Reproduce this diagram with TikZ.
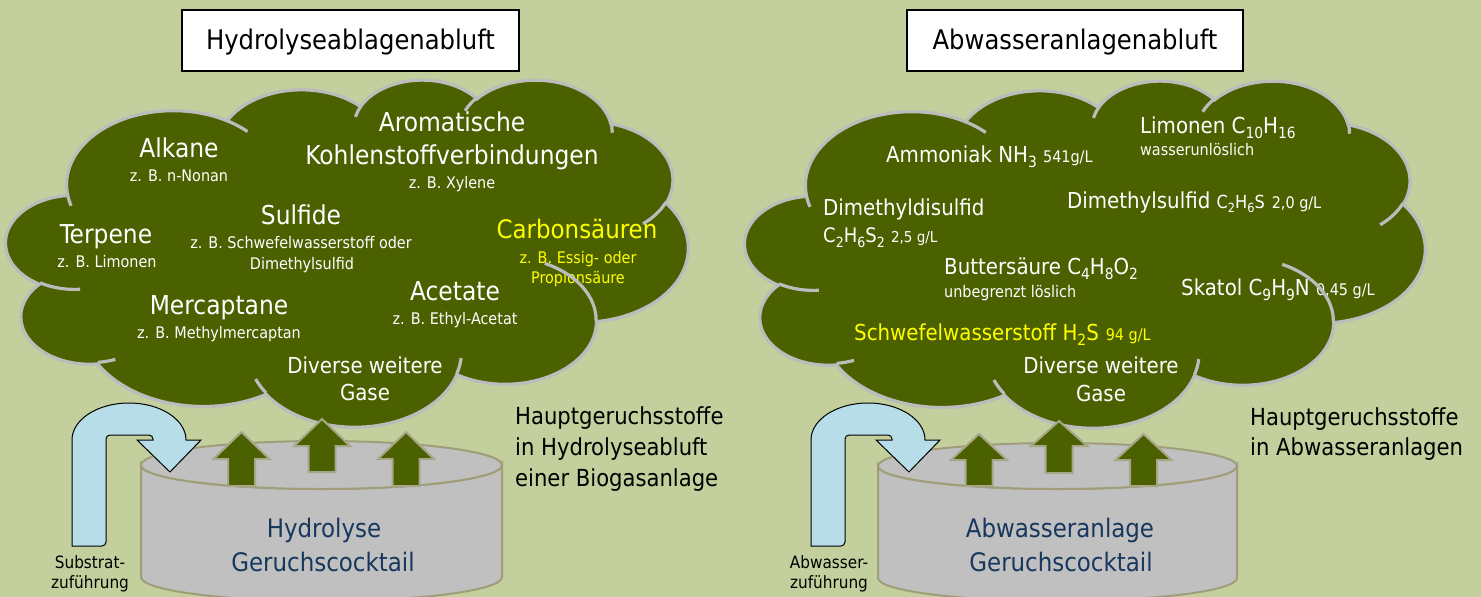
\documentclass[tikz,border=0pt]{standalone}
\usepackage{fontspec}
\setmainfont{DejaVu Sans Condensed}
\usepackage{graphicx}
\definecolor{bg}{RGB}{195,207,156}
\definecolor{cloudfill}{RGB}{75,97,0}
\definecolor{cloudline}{RGB}{188,188,188}
\definecolor{cylfill}{RGB}{192,192,192}
\definecolor{cylline}{RGB}{160,158,120}
\definecolor{arrline}{RGB}{168,166,136}
\definecolor{bentfill}{RGB}{183,222,232}
\definecolor{tankblue}{RGB}{23,55,94}
\definecolor{yell}{RGB}{255,255,0}

\newcommand\fs[1]{\fontsize{#1}{#1}\selectfont}
\newcommand\sbs[1]{\raisebox{-0.25em}{\scalebox{0.7}{#1}}}

% DrawingML cloud arcs: convert visual angles to parametric ones
\newcommand\setarc[5]{%
  \pgfmathsetmacro\tmpa{atan2(#2*sin(#4),#3*cos(#4))}%
  \pgfmathsetmacro\tmpb{atan2(#2*sin(#4+#5),#3*cos(#4+#5))}%
  \pgfmathsetmacro\tmpd{mod(\tmpb-\tmpa+720,360)}%
  \expandafter\xdef\csname arcS#1\endcsname{\tmpa}%
  \expandafter\xdef\csname arcD#1\endcsname{\tmpd}%
}
\setarc{A}{6.753}{9.19}{-190.4875}{123.7805}
\setarc{B}{5.333}{7.267}{-144.1024}{89.9452}
\setarc{C}{4.365}{5.945}{-145.8079}{99.7230}
\setarc{D}{4.857}{6.595}{-130.9861}{117.2417}
\setarc{E}{5.333}{7.273}{-78.7089}{109.0269}
\setarc{F}{6.775}{9.22}{-46.2673}{130.2690}
\setarc{G}{5.785}{7.867}{0.6250}{114.0333}
\setarc{H}{6.752}{9.215}{22.4516}{115.1726}
\setarc{I}{7.72}{10.543}{66.2426}{75.7110}
\setarc{J}{4.36}{5.918}{-274.9421}{146.7356}
\setarc{K}{4.345}{5.945}{-246.8285}{152.5189}
\setarc{a}{4.345}{5.945}{86.7420}{26.4295}
\setarc{b}{4.36}{5.918}{73.6105}{11.4475}
\setarc{c}{6.752}{9.215}{137.6242}{14.0811}
\setarc{d}{6.752}{9.215}{6.4533}{15.9984}
\setarc{e}{5.785}{7.867}{-70.2924}{70.9174}
\setarc{f}{5.333}{7.273}{30.3180}{27.7515}
\setarc{g}{4.857}{6.595}{-13.7443}{14.8589}
\setarc{h}{4.857}{6.595}{-149.1815}{18.1954}
\setarc{i}{4.365}{5.945}{-163.4943}{17.6864}
\setarc{j}{6.753}{9.19}{-66.7070}{12.3194}
\setarc{k}{6.753}{9.19}{157.6544}{11.8582}

\newcommand\cloudbody[4]{%
\begin{scope}[shift={(#1,#2)}, xscale=#3/43.2, yscale=#4/43.2]
\path[cloudshape] (3.9,14.37)
 arc[start angle=\arcSA, delta angle=\arcDA, x radius=6.753, y radius=9.19]
 arc[start angle=\arcSB, delta angle=\arcDB, x radius=5.333, y radius=7.267]
 arc[start angle=\arcSC, delta angle=\arcDC, x radius=4.365, y radius=5.945]
 arc[start angle=\arcSD, delta angle=\arcDD, x radius=4.857, y radius=6.595]
 arc[start angle=\arcSE, delta angle=\arcDE, x radius=5.333, y radius=7.273]
 arc[start angle=\arcSF, delta angle=\arcDF, x radius=6.775, y radius=9.22]
 arc[start angle=\arcSG, delta angle=\arcDG, x radius=5.785, y radius=7.867]
 arc[start angle=\arcSH, delta angle=\arcDH, x radius=6.752, y radius=9.215]
 arc[start angle=\arcSI, delta angle=\arcDI, x radius=7.72, y radius=10.543]
 arc[start angle=\arcSJ, delta angle=\arcDJ, x radius=4.36, y radius=5.918]
 arc[start angle=\arcSK, delta angle=\arcDK, x radius=4.345, y radius=5.945]
 -- cycle;
\end{scope}}

\newcommand\cloudinner[4]{%
\begin{scope}[shift={(#1,#2)}, xscale=#3/43.2, yscale=#4/43.2]
\path[cloudlines]
 (4.693,26.177) arc[start angle=\arcSa, delta angle=\arcDa, x radius=4.345, y radius=5.945]
 (6.928,34.899) arc[start angle=\arcSb, delta angle=\arcDb, x radius=4.36, y radius=5.918]
 (16.478,39.09) arc[start angle=\arcSc, delta angle=\arcDc, x radius=6.752, y radius=9.215]
 (28.827,34.751) arc[start angle=\arcSd, delta angle=\arcDd, x radius=6.752, y radius=9.215]
 (34.129,22.954) arc[start angle=\arcSe, delta angle=\arcDe, x radius=5.785, y radius=7.867]
 (41.798,15.354) arc[start angle=\arcSf, delta angle=\arcDf, x radius=5.333, y radius=7.273]
 (38.324,5.426) arc[start angle=\arcSg, delta angle=\arcDg, x radius=4.857, y radius=6.595]
 (29.078,3.952) arc[start angle=\arcSh, delta angle=\arcDh, x radius=4.857, y radius=6.595]
 (22.141,4.72) arc[start angle=\arcSi, delta angle=\arcDi, x radius=4.365, y radius=5.945]
 (14,5.192) arc[start angle=\arcSj, delta angle=\arcDj, x radius=6.753, y radius=9.19]
 (4.127,15.789) arc[start angle=\arcSk, delta angle=\arcDk, x radius=6.753, y radius=9.19];
\end{scope}}

\newcommand\tankshape[4]{%
\path[tankstyle] ({#1-#3},#2) -- ({#1-#3},{#2+112})
  arc[start angle=180, end angle=0, x radius=#3, y radius=#4]
  -- ({#1+#3},#2) arc[start angle=0, end angle=180, x radius=#3, y radius=#4] -- cycle;
\path[tankstyle] (#1,#2) ellipse[x radius=#3, y radius=#4];}

\newcommand\uparrowshape[4]{% xc tip base bottom
\path[uparr] (#1,#2) -- ({#1+28},#3) -- ({#1+13.5},#3) -- ({#1+13.5},#4)
  -- ({#1-13.5},#4) -- ({#1-13.5},#3) -- ({#1-28},#3) -- cycle;}

\newcommand\bentarrow[1]{%
\begin{scope}[shift={(#1,0)}]
\path[bent] (72,546) -- (72,440)
  arc[start angle=180, end angle=360, x radius=57, y radius=37]
  -- (201,440) -- (170,472) -- (137,440) -- (153,440)
  [rounded corners=4pt] -- (153,435) -- (106,435) -- (106,546) [sharp corners] -- cycle;
\end{scope}}

\begin{document}
\begin{tikzpicture}[x=1pt,y=-1pt,
  cloudshape/.style={fill=cloudfill, draw=cloudline, line width=3.2pt},
  cloudlines/.style={draw=cloudline, line width=3.2pt},
  tankstyle/.style={fill=cylfill, draw=cylline, line width=2pt},
  uparr/.style={fill=cloudfill, draw=arrline, line width=2pt, line join=miter},
  bent/.style={fill=bentfill, draw=black, line width=1pt},
  lbig/.style={text=white, font=\fs{26}, anchor=base, inner sep=0pt},
  lsmall/.style={text=white, font=\fs{16}, anchor=base, inner sep=0pt},
  rtxt/.style={text=white, font=\fs{22}, anchor=base west, inner sep=0pt},
  rsmall/.style={text=white, font=\fs{16}, anchor=base west, inner sep=0pt},
  note/.style={text=black, font=\fs{23.5}, anchor=base west, inner sep=0pt},
  tanktext/.style={text=tankblue, font=\fs{25.5}, anchor=base, inner sep=0pt},
  feed/.style={text=black, font=\fs{17}, anchor=base, inner sep=0pt},
  titlebox/.style={draw=black, line width=1.5pt, fill=white, font=\fs{27}, inner sep=0pt,
    text height=22pt, text depth=5pt, minimum height=61pt, minimum width=337pt}
]
\fill[bg, use as bounding box] (0,0) rectangle (1481,597);

% tanks
\tankshape{321.5}{465}{180.5}{24}
\tankshape{1057.5}{466}{179.5}{23}

% clouds
\cloudbody{6}{79}{682}{347}
\cloudbody{745}{80}{680}{347}

% left cloud texts
\node[lbig] (alk) at (179,157) {Alkane};
\node[lsmall] (alks) at (179,181) {z. B. n-Nonan};
\node[lbig] (aro1) at (452,131) {Aromatische};
\node[lbig] (aro2) at (452,164) {Kohlenstoffverbindungen};
\node[lsmall] (aros) at (452,188) {z. B. Xylene};
\node[lbig] (sul) at (301,224) {Sulfide};
\node[lsmall] (suls1) at (301,248) {z. B. Schwefelwasserstoff oder};
\node[lsmall] (suls2) at (302,269) {Dimethylsulfid};
\node[lbig] (ter) at (106,243) {Terpene};
\node[lsmall] (ters) at (107,267) {z. B. Limonen};
\node[lbig, text=yell, font=\fs{25.5}] (car) at (577,238) {Carbonsäuren};
\node[lsmall, text=yell] (cars1) at (578,263) {z. B. Essig- oder};
\node[lsmall, text=yell] (cars2) at (578,283) {Propionsäure};
\node[lbig] (mer) at (219,314) {Mercaptane};
\node[lsmall] (mers) at (219,338) {z. B. Methylmercaptan};
\node[lbig] (ace) at (455,300) {Acetate};
\node[lsmall] (aces) at (455,324) {z. B. Ethyl-Acetat};
\node[lbig, font=\fs{22}] (div1) at (365,373) {Diverse weitere};
\node[lbig, font=\fs{22}] (div2) at (365,400) {Gase};

% right cloud texts
\node[rtxt] (amm) at (886,162) {Ammoniak NH\sbs{3} {\fs{16}541g/L}};
\node[rtxt] (lim) at (1140,133) {Limonen C\sbs{10}H\sbs{16}};
\node[rsmall] (lims) at (1140,155) {wasserunlöslich};
\node[rtxt] (dmds) at (823,215) {Dimethyldisulfid};
\node[rtxt] (dmdsf) at (823,242) {{\fs{20}C\sbs{2}H\sbs{6}S\sbs{2}} {\fs{15}2,5 g/L}};
\node[rtxt] (dms) at (1067,208) {Dimethylsulfid {\fs{18}C\sbs{2}H\sbs{6}S}\hspace{7pt}{\fs{16}2,0 g/L}};
\node[rtxt] (but) at (944,274) {Buttersäure C\sbs{4}H\sbs{8}O\sbs{2}};
\node[rsmall] (buts) at (944,297) {unbegrenzt löslich};
\node[rtxt] (ska) at (1181,295) {Skatol C\sbs{9}H\sbs{9}N {\fs{16}0,45 g/L}};
\node[rtxt, text=yell] (hs) at (854,340) {Schwefelwasserstoff H\sbs{2}S\hspace{7pt}{\fs{16}94 g/L}};
\node[lbig, font=\fs{22}] (rdiv1) at (1101,373) {Diverse weitere};
\node[lbig, font=\fs{22}] (rdiv2) at (1101,401) {Gase};

% cloud inner arcs
\cloudinner{6}{79}{682}{347}
\cloudinner{745}{80}{680}{347}

% up arrows
\uparrowshape{241.5}{432}{459}{486}
\uparrowshape{322}{419}{446}{472}
\uparrowshape{406}{432}{459}{486}
\uparrowshape{979}{434}{460}{486}
\uparrowshape{1059}{421}{446}{473}
\uparrowshape{1143.5}{434}{460}{486}

% bent feed arrows
\bentarrow{0}
\bentarrow{739}

% titles
\node[titlebox] (t1) at (350.5,40.5) {Hydrolyseablagenabluft};
\node[titlebox, minimum width=336pt] (t2) at (1075,40.5) {Abwasseranlagenabluft};

% notes
\node[note] (n1) at (515,424) {Hauptgeruchsstoffe};
\node[note] (n2) at (515,455) {in Hydrolyseabluft};
\node[note] (n3) at (515,486) {einer Biogasanlage};
\node[note] (n4) at (1250,425) {Hauptgeruchsstoffe};
\node[note] (n5) at (1250,455) {in Abwasseranlagen};

% tank labels
\node[tanktext] (h1) at (324,537) {Hydrolyse};
\node[tanktext] (h2) at (323,571) {Geruchscocktail};
\node[tanktext] (a1) at (1060,537) {Abwasseranlage};
\node[tanktext] (a2) at (1061,571) {Geruchscocktail};

% feed labels
\node[feed] (f1) at (90,568) {Substrat-};
\node[feed] (f2) at (90,588) {zuführung};
\node[feed] (f3) at (829,568) {Abwasser-};
\node[feed] (f4) at (829,588) {zuführung};
\end{tikzpicture}
\end{document}
